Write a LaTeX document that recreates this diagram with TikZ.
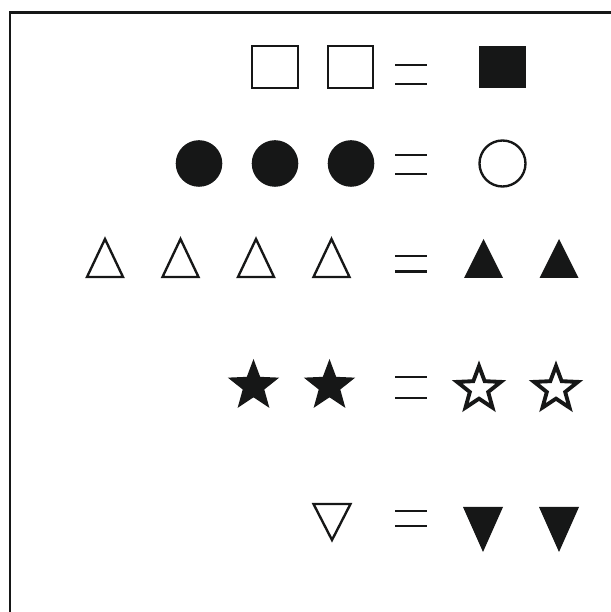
\documentclass[tikz,border=0pt]{standalone}
\usetikzlibrary{calc}
\definecolor{cink}{HTML}{161717}
\tikzset{
  every picture/.style={x=0.04cm, y=0.04cm, line join=miter},
  frame/.style={draw=cink, line width=3.4pt},
  hollow/.style={draw=cink, line width=2.7pt},
  hollowstar/.style={draw=cink, line width=4.4pt},
  filled/.style={fill=cink},
  eqline/.style={draw=cink, line width=2.8pt},
  pics/sqr/.style={code={\path[#1] (-22.8,-20.8) rectangle (22.8,20.8);}},
  pics/fsqr/.style={code={\path[#1] (-23.5,-21) rectangle (23.5,21);}},
  pics/uptri/.style={code={\path[#1] (-18,-19) -- (0,19) -- (18,-19) -- cycle;}},
  pics/fuptri/.style={code={\path[#1] (-19.5,-19.5) -- (0,19.5) -- (19.5,-19.5) -- cycle;}},
  pics/dntri/.style={code={\path[#1] (-18.5,18) -- (0,-18) -- (18.5,18) -- cycle;}},
  pics/fdntri/.style={code={\path[#1] (-20,22.5) -- (0,-22.5) -- (20,22.5) -- cycle;}},
  pics/star/.style args={#1/#2}{code={\path[#1] (90:#2)
      \foreach \k in {1,...,4}{ -- (90+72*\k-36:0.42*#2) -- (90+72*\k:#2)} -- (54:0.42*#2) -- cycle;}},
  pics/eq/.style={code={\path[eqline] (-16,#1) -- (16,#1) (-16,-#1) -- (16,-#1);}},
}

\begin{document}
\begin{tikzpicture}
  \useasboundingbox (0,0) rectangle (611,612);
  \draw[frame] (620,599.5) -- (10,599.5) -- (10,-10);

  % squares
  \pic at (275,545) {sqr=hollow};
  \pic at (350.5,545) {sqr=hollow};
  \pic at (411,537.5) {eq=9.5};
  \pic at (502.5,545) {fsqr=filled};

  % circles
  \foreach \cx in {199,275,351}
    \fill[cink] (\cx,448.5) circle (23.3);
  \pic at (411,447.5) {eq=9.5};
  \draw[hollow] (502.5,448.5) circle (23);

  % triangles up
  \foreach \cx in {105,180.5,256,331.5}
    \pic at (\cx,354) {uptri=hollow};
  \pic at (411,348.3) {eq=7.8};
  \pic at (483.5,353.5) {fuptri=filled};
  \pic at (559,353.5) {fuptri=filled};

  % stars
  \pic at (253.5,226) {star=filled/27};
  \pic at (329.5,226) {star=filled/27};
  \pic at (411,224.5) {eq=10.5};
  \pic at (479,223) {star=hollowstar/23};
  \pic at (556,223) {star=hollowstar/23};

  % triangles down
  \pic at (332,90) {dntri=hollow};
  \pic at (411,93.5) {eq=7.5};
  \pic at (483,82.5) {fdntri=filled};
  \pic at (559,82.5) {fdntri=filled};
\end{tikzpicture}
\end{document}
